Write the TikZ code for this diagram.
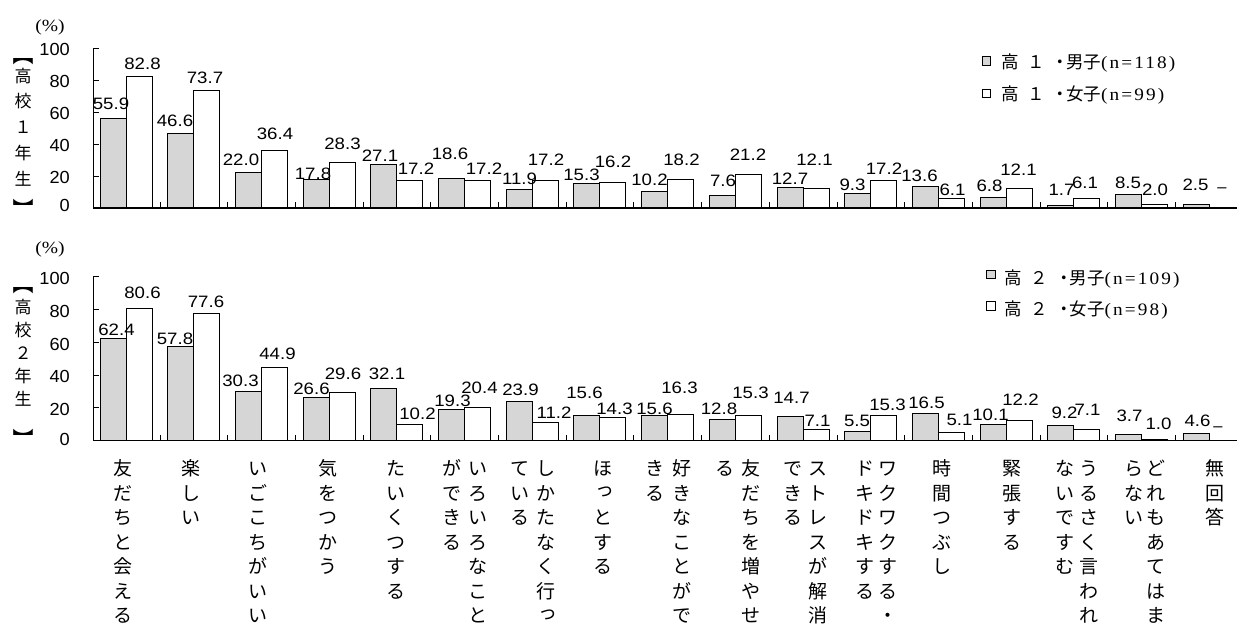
\documentclass[tikz,border=0pt]{standalone}
\usepackage{fontspec}
\setmainfont{Liberation Sans}
\newfontfamily\numf{Liberation Sans}
\newfontfamily\jf{Noto Sans CJK JP}
\newfontfamily\lserif[LetterSpace=11]{Liberation Serif}
\newfontfamily\pserif{Liberation Serif}
\def\vchar#1{\ifx#1っ\rlap{\kern0.13em\raise0.17em\hbox{#1}}\phantom{#1}\else #1\fi}
\def\vstackA#1{\ifx#1\relax\else\hbox to 1em{\hss\vchar{#1}\hss}\expandafter\vstackA\fi}
\newcommand\vcol[2]{\vtop{\baselineskip=#1\lineskiplimit=-1000pt\lineskip=0pt\expandafter\vstackA#2\relax}}
\newcommand\legtext[3]{{\jf\fontsize{17.5}{18}\selectfont 高\kern8.75pt #1\kern7pt ・\kern-3.25pt #2}{\lserif\fontsize{17.5}{18}\selectfont\scalebox{1.1}[1]{#3}}}
\newcommand\dl[1]{\scalebox{1.13}[1]{#1}}
\definecolor{malefill}{HTML}{D6D6D6}
\tikzset{
 malebar/.style={draw=black, line width=0.9pt, fill=malefill},
 fembar/.style={draw=black, line width=0.9pt, fill=white},
 axisline/.style={line width=1.3pt, black},
 thin/.style={line width=0.9pt, black},
 dlab/.style={anchor=base, inner sep=0, font=\numf\fontsize{16.5}{17}\selectfont},
 ylab/.style={anchor=base east, inner sep=0, font=\numf\fontsize{17.5}{18}\selectfont},
 catlab/.style={anchor=base, inner sep=0, font=\jf\fontsize{19}{24.5}\selectfont},
 sidelab/.style={anchor=base, inner sep=0, font=\jf\fontsize{17}{18}\selectfont},
 brk/.style={inner sep=0, rotate=-90, font=\jf\fontsize{21}{22}\selectfont},
 pct/.style={anchor=base, inner sep=0, font=\pserif\fontsize{17}{18}\selectfont},
 legtxt/.style={anchor=base west, inner sep=0},
}
\begin{document}
\begin{tikzpicture}[x=1pt,y=-1pt]
\fill[white] (0,0) rectangle (1237,624);
\useasboundingbox (0,0) rectangle (1237,624);

% ================= TOP CHART (高校1年生) =================
\draw[thin] (93,48.6) -- (93,208);
\foreach \v in {20,40,...,100} \draw[thin] (93,208-1.594*\v) -- (99,208-1.594*\v);
\foreach \k in {1,...,16} \draw[thin] (92.3+67.7*\k,208) -- (92.3+67.7*\k,202);
\foreach \v [count=\i from 0] in {55.9,46.6,22.0,17.8,27.1,18.6,11.9,15.3,10.2,7.6,12.7,9.3,13.6,6.8,1.7,8.5,2.5}
  \draw[malebar] (100+67.7*\i,208) rectangle (126+67.7*\i,208-1.594*\v);
\foreach \v [count=\i from 0] in {82.8,73.7,36.4,28.3,17.2,17.2,17.2,16.2,18.2,21.2,12.1,17.2,6.1,12.1,6.1,2.0}
  \draw[fembar] (126+67.7*\i,208) rectangle (152+67.7*\i,208-1.594*\v);
\draw[axisline] (93,208) -- (1237,208);
\foreach \v/\dy in {0/-3,20/1,40/1,60/1,80/1,100/1}
  \node[ylab] (ta\v) at (70,208-1.594*\v+\dy+6.3) {\scalebox{1.04}[1]{\v}};
\node[pct] (tpct) at (50,31.5) {\scalebox{1.15}[1]{(\%)}};
\foreach \v/\x/\y [count=\i] in {55.9/111/103.5,46.6/175/121,22.0/241/160,17.8/313/173.5,27.1/380/155.5,18.6/450/153.5,11.9/519.5/179,15.3/581.5/175,10.2/649.5/179.5,7.6/723/180.5,12.7/790/178.5,9.3/852.5/184.5,13.6/919.5/175.5,6.8/989.5/185.5,1.7/1061.5/190,8.5/1128/182.5,2.5/1195.5/184.5}
  \node[dlab] (tm\i) at (\x,\y+5.9) {\dl{\v}};
\foreach \v/\x/\y [count=\i] in {82.8/142.5/64,73.7/205/77.5,36.4/275/133.5,28.3/342.5/143.5,17.2/416/169,17.2/484/169,17.2/546/160,16.2/613/162,18.2/681.5/159.5,21.2/748/154.5,12.1/814.5/160,17.2/884/168.5,6.1/952.5/189.5,12.1/1018.5/169.5,6.1/1085/182.5,2.0/1155/189.5}
  \node[dlab] (tf\i) at (\x,\y+5.9) {\dl{\v}};
\node[dlab] (tfdash) at (1222,192.4) {–};
% side label
\node[brk] (tbo) at (23,54.5) {【};
\node[sidelab] (tside) at (23,82) {\vcol{25.75pt}{高校１年生}};
\node[brk] (tbc) at (23,209) {】};
% legend
\draw[malebar, line width=0.7pt] (982.3,56.7) rectangle (990.7,65);
\draw[fembar, line width=0.7pt] (982.3,89.3) rectangle (990.7,97.7);
\node[legtxt] (tl1) at (1001,68.2) {\legtext{１}{男子}{(n=118)}};
\node[legtxt] (tl2) at (1001,100.2) {\legtext{１}{女子}{(n=99)}};

% ================= BOTTOM CHART (高校2年生) =================
\draw[thin] (93,276.9) -- (93,440.7);
\foreach \v in {20,40,...,100} \draw[thin] (93,440.7-1.638*\v) -- (99,440.7-1.638*\v);
\foreach \k in {1,...,16} \draw[thin] (92.3+67.7*\k,440.7) -- (92.3+67.7*\k,434.7);
\foreach \v [count=\i from 0] in {62.4,57.8,30.3,26.6,32.1,19.3,23.9,15.6,15.6,12.8,14.7,5.5,16.5,10.1,9.2,3.7,4.6}
  \draw[malebar] (100+67.7*\i,440.7) rectangle (126+67.7*\i,440.7-1.638*\v);
\foreach \v [count=\i from 0] in {80.6,77.6,44.9,29.6,10.2,20.4,11.2,14.3,16.3,15.3,7.1,15.3,5.1,12.2,7.1,1.0}
  \draw[fembar] (126+67.7*\i,440.7) rectangle (152+67.7*\i,440.7-1.638*\v);
\draw[axisline] (93,440.7) -- (1237,440.7);
\foreach \v/\dy in {0/-2,20/1.5,40/1.5,60/1.5,80/1.5,100/1.5}
  \node[ylab] (ba\v) at (70,440.7-1.638*\v+\dy+6.3) {\scalebox{1.04}[1]{\v}};
\node[pct] (bpct) at (50,253) {\scalebox{1.15}[1]{(\%)}};
\foreach \v/\x/\y [count=\i] in {62.4/116.5/330,57.8/175/338.5,30.3/240.5/381,26.6/311.5/388.5,32.1/387/373.5,19.3/452.5/400.5,23.9/520.5/390,15.6/584.5/392.5,15.6/654.5/408.5,12.8/719/409,14.7/791.5/397.5,5.5/857/420.5,16.5/926.5/402.5,10.1/990.5/415,9.2/1064.5/412.5,3.7/1129.5/415.5,4.6/1197.5/420.5}
  \node[dlab] (bm\i) at (\x,\y+5.9) {\dl{\v}};
\foreach \v/\x/\y [count=\i] in {80.6/142.5/292.5,77.6/206/301.5,44.9/277.5/354,29.6/343/373.5,10.2/417.5/414,20.4/479.5/387.5,11.2/554/412.5,14.3/614.5/408.5,16.3/679.5/387.5,15.3/750.5/392.5,7.1/817.5/420.5,15.3/887.5/405,5.1/959.5/419.5,12.2/1020.5/399.5,7.1/1087.5/409.5,1.0/1158.5/423.5}
  \node[dlab] (bf\i) at (\x,\y+5.9) {\dl{\v}};
\node[dlab] (bfdash) at (1218,431.8) {–};
\node[brk] (bbo) at (23,283.5) {【};
\node[sidelab] (bside) at (23,313.5) {\vcol{22.9pt}{高校２年生}};
\node[brk] (bbc) at (23,438.5) {】};
\draw[malebar, line width=0.7pt] (986.7,270) rectangle (995,278.3);
\draw[fembar, line width=0.7pt] (986.7,301.7) rectangle (995,310);
\node[legtxt] (bl1) at (1004.5,284.2) {\legtext{２}{男子}{(n=109)}};
\node[legtxt] (bl2) at (1004.5,315.2) {\legtext{２}{女子}{(n=98)}};

% ================= CATEGORY LABELS =================
\foreach \x/\lab [count=\i] in {123/友だちと会える,191/楽しい,258/いごこちがいい,328/気をつかう,396/たいくつする,477.5/いろいろなこと,451.5/ができる,546/しかたなく行っ,520/ている,602.5/ほっとする,682/好きなことがで,655/きる,751/友だちを増やせ,725/る,817.5/ストレスが解消,792.5/できる,888/ワクワクする・,865/ドキドキする,941.5/時間つぶし,1012/緊張する,1088.5/うるさく言われ,1064.5/ないですむ,1155.5/どれもあてはま,1133.5/らない,1215/無回答}
  \node[catlab] (cl\i) at (\x,475.7) {\vcol{24.5pt}{\lab}};
\end{tikzpicture}
\end{document}
